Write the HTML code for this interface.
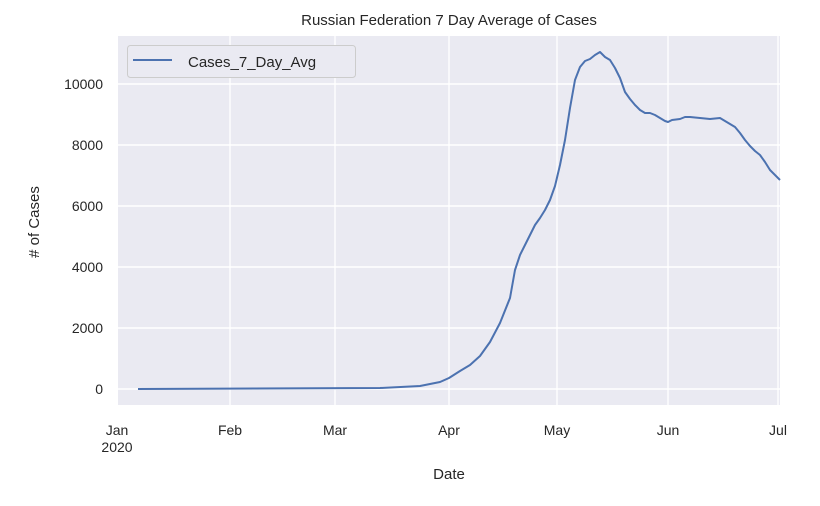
<!DOCTYPE html>
<html><head><meta charset="utf-8"><style>body{margin:0;background:#fff}svg{display:block}text{font-family:"Liberation Sans",Arial,sans-serif;fill:#262626}</style></head><body>
<svg width="820" height="506" viewBox="0 0 820 506">
<rect x="118" y="36" width="662" height="369" fill="#eaeaf2"/>
<g stroke="#fff" stroke-width="1.4">
<line x1="230" y1="36" x2="230" y2="405"/><line x1="335" y1="36" x2="335" y2="405"/><line x1="449" y1="36" x2="449" y2="405"/><line x1="557" y1="36" x2="557" y2="405"/><line x1="668" y1="36" x2="668" y2="405"/><line x1="778" y1="36" x2="778" y2="405"/>
<line x1="118" y1="389" x2="780" y2="389"/><line x1="118" y1="328" x2="780" y2="328"/><line x1="118" y1="267" x2="780" y2="267"/><line x1="118" y1="206" x2="780" y2="206"/><line x1="118" y1="145" x2="780" y2="145"/><line x1="118" y1="84" x2="780" y2="84"/>
</g>
<polyline fill="none" stroke="#4c72b0" stroke-width="2" stroke-linejoin="round" points="138,389 380,388 420,386 440,382 449,378 460,371 470,365 480,356 490,342 500,323 510,298 515,270 520,255 525,245 530,235 535,225 540,218 545,210 550,200 555,186 560,165 565,140 570,108 575,80 580,67 585,61 590,59 595,55 600,52 605,57 610,60 615,68 620,78 625,92 630,99 635,105 640,110 645,113 650,113 655,115 660,118 665,121 668,122 672,120 680,119 685,117 690,117 700,118 710,119 720,118 730,124 735,127 740,133 745,140 750,146 755,151 760,155 765,162 770,170 775,175 780,180"/>
<rect x="127.5" y="45.5" width="228" height="32" rx="3" fill="#eaeaf2" stroke="#cccccc"/>
<line x1="133" y1="60" x2="172" y2="60" stroke="#4c72b0" stroke-width="2"/>
<text x="188" y="67" font-size="15">Cases_7_Day_Avg</text>
<g font-size="14" text-anchor="end">
<text x="103" y="394">0</text><text x="103" y="333">2000</text><text x="103" y="272">4000</text><text x="103" y="211">6000</text><text x="103" y="150">8000</text><text x="103" y="89">10000</text>
</g>
<g font-size="14" text-anchor="middle">
<text x="117" y="435">Jan</text><text x="117" y="452">2020</text><text x="230" y="435">Feb</text><text x="335" y="435">Mar</text><text x="449" y="435">Apr</text><text x="557" y="435">May</text><text x="668" y="435">Jun</text><text x="778" y="435">Jul</text>
<text x="449" y="479" font-size="15">Date</text>
<text x="449" y="25" font-size="15">Russian Federation 7 Day Average of Cases</text>
</g>
<text transform="translate(39,222) rotate(-90)" font-size="15" text-anchor="middle"># of Cases</text>
</svg>
</body></html>
